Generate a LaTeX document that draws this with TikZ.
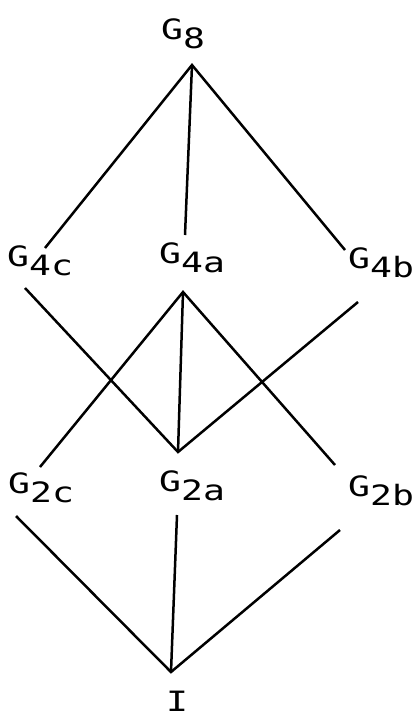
\documentclass[tikz,border=0pt]{standalone}
\usepackage{fontspec}
\newfontfamily\labfont[FakeStretch=1.3]{DejaVu Sans Mono}
\newcommand{\gsb}[1]{G\raisebox{-9pt}{#1}}
\begin{document}
\begin{tikzpicture}[x=1pt,y=-1pt,
  lbl/.style={anchor=base west, inner sep=0pt, font=\labfont\fontsize{28}{28}\selectfont},
  edge/.style={line width=2.5pt, line join=miter}]
\useasboundingbox (0,0) rectangle (416,720);
% labels
\node[lbl] (g8)  at (161,39)  {\gsb{8}};
\node[lbl] (g4c) at (7,266)   {\gsb{4c}};
\node[lbl] (g4a) at (159,263) {\gsb{4a}};
\node[lbl] (g4b) at (348,268) {\gsb{4b}};
\node[lbl] (g2c) at (8,493)   {\gsb{2c}};
\node[lbl] (g2a) at (159,491) {\gsb{2a}};
\node[lbl] (g2b) at (348,496) {\gsb{2b}};
\node[lbl, anchor=base] (gI) at (177,711) {I};
% junction and end points
\coordinate (t8)  at (192,65);
\coordinate (a4c) at (45,248);
\coordinate (a4a) at (185,235);
\coordinate (a4b) at (345,250);
\coordinate (m4a) at (183,292);
\coordinate (s4c) at (25,288);
\coordinate (s4b) at (358,302);
\coordinate (m2a) at (178,452);
\coordinate (e2c) at (40,467);
\coordinate (e2b) at (335,465);
\coordinate (b2c) at (16,516);
\coordinate (b2a) at (177,515);
\coordinate (b2b) at (340,530);
\coordinate (bI)  at (171,672);
% connectors
\draw[edge] (a4c) -- (t8) -- (a4b);
\draw[edge] (t8) -- (a4a);
\draw[edge] (e2c) -- (m4a) -- (e2b);
\draw[edge] (m4a) -- (m2a);
\draw[edge] (s4c) -- (m2a) -- (s4b);
\draw[edge] (b2c) -- (bI) -- (b2b);
\draw[edge] (b2a) -- (bI);
\end{tikzpicture}
\end{document}
